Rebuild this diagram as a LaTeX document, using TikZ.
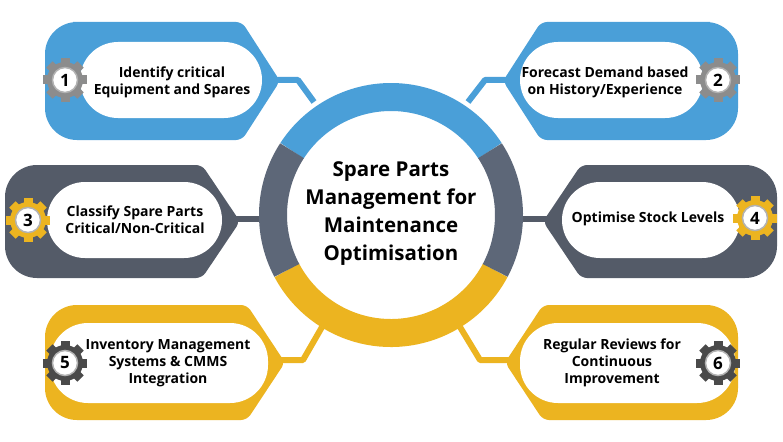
\documentclass[tikz,border=0pt]{standalone}
\usepackage{fontspec}
\setmainfont{Open Sans}
\usetikzlibrary{calc}
\definecolor{cblue}{HTML}{4A9FD8}
\definecolor{cgray}{HTML}{545B68}
\definecolor{cring}{HTML}{5D6778}
\definecolor{cyel}{HTML}{ECB420}
\definecolor{gearg}{HTML}{8C8C8C}
\definecolor{geard}{HTML}{4A4A4A}
\tikzset{
 pill/.style={fill=white,rounded corners=38pt},
 lbl/.style={font=\bfseries\fontsize{14}{17}\selectfont,align=center,text=black},
 conn/.style={line width=6pt,line join=round},
 numtxt/.style={font=\bfseries\fontsize{17}{17}\selectfont,text=black}
}
\newcommand\lshape[5]{% tipx, farx, yt, yb, color  (tip on right)
 \pgfmathsetmacro\ym{(#3+#4)/2}
 \fill[#5] ($(#2,#3)+(60,0)$) [rounded corners=6pt] -- ($(#1,#3)+(-38,0)$) -- (#1,\ym) -- ($(#1,#4)+(-38,0)$) [rounded corners=32pt] -- (#2,#4) -- (#2,#3) -- cycle;}
\newcommand\rshape[5]{% tip on left
 \pgfmathsetmacro\ym{(#3+#4)/2}
 \fill[#5] ($(#2,#3)+(-60,0)$) [rounded corners=6pt] -- ($(#1,#3)+(38,0)$) -- (#1,\ym) -- ($(#1,#4)+(38,0)$) [rounded corners=32pt] -- (#2,#4) -- (#2,#3) -- cycle;}
\newcommand\gearat[4]{% name, x, y, color
 \foreach \a in {0,45,...,315}{\fill[#4,rotate around={\a:(#2,#3)}] ($(#2,#3)+(-4.5,0)$) rectangle ($(#2,#3)+(4.5,22)$);}
 \fill[#4] (#2,#3) circle (18);
 \filldraw[fill=white,draw=gray!60,line width=1.5pt] (#2,#3) circle (12.5);}
\begin{document}
\begin{tikzpicture}[x=1pt,y=-1pt]
\useasboundingbox (0,0) rectangle (783,441);
\fill[white] (0,0) rectangle (783,441);
% connectors
\coordinate (c1) at (314,102); \coordinate (c2) at (468,102);
\coordinate (c3) at (264,219); \coordinate (c4) at (520,219);
\coordinate (c5) at (322,327); \coordinate (c6) at (460,327);
\coordinate (t1) at (270,80); \coordinate (t2) at (513,80);
\coordinate (t3) at (230,219); \coordinate (t4) at (553,219);
\coordinate (t5) at (275,360); \coordinate (t6) at (515,360);
\draw[conn,cblue] (t1) -- (298,80) -- (c1);
\draw[conn,cblue] (t2) -- (485,80) -- (c2);
\draw[conn,cgray] (t3) -- (c3);
\draw[conn,cgray] (t4) -- (c4);
\draw[conn,cyel] (t5) -- (303,360) -- (c5);
\draw[conn,cyel] (t6) -- (480,360) -- (c6);
% shapes
\lshape{280}{45}{22}{140}{cblue}
\rshape{503}{738}{22}{140}{cblue}
\lshape{240}{5}{165}{278}{cgray}
\rshape{543}{777}{165}{278}{cgray}
\lshape{285}{45}{305}{420}{cyel}
\rshape{505}{738}{305}{420}{cyel}
% pills
\fill[pill] (80,42) rectangle (262,118);
\fill[pill] (520,42) rectangle (703,118);
\fill[pill] (47,182) rectangle (222,258);
\fill[pill] (562,182) rectangle (740,258);
\fill[pill] (50,323) rectangle (268,403);
\fill[pill] (520,323) rectangle (735,403);
% gears
\gearat{g1}{65}{80}{gearg}
\gearat{g2}{718}{80}{gearg}
\gearat{g3}{28}{220}{cyel}
\gearat{g4}{755}{218}{cyel}
\gearat{g5}{65}{363}{geard}
\gearat{g6}{718}{363}{geard}
\node[numtxt] (n1) at (65,80) {1};
\node[numtxt] (n2) at (718,80) {2};
\node[numtxt] (n3) at (28,220) {3};
\node[numtxt] (n4) at (755,218) {4};
\node[numtxt] (n5) at (65,363) {5};
\node[numtxt] (n6) at (718,363) {6};
% ring
\coordinate (o) at (391,215);
\draw[cblue,line width=28pt] ($(o)+(213:118)$) arc (213:327:118);
\draw[cyel,line width=28pt] ($(o)+(28:118)$) arc (28:152:118);
\draw[cring,line width=28pt] ($(o)+(152:118)$) arc (152:213:118);
\draw[cring,line width=28pt] ($(o)+(-33:118)$) arc (-33:28:118);
\node[font=\bfseries\fontsize{20.5}{28}\selectfont,align=center] (center) at (391,214) {Spare Parts\\Management for\\Maintenance\\Optimisation};
% labels
\node[lbl] (l1) at (172,82) {Identify critical\\Equipment and Spares};
\node[lbl] (l2) at (605,82) {Forecast Demand based\\on History/Experience};
\node[lbl] (l3) at (135,220) {Classify Spare Parts\\Critical/Non-Critical};
\node[lbl] (l4) at (648,219) {Optimise Stock Levels};
\node[lbl] (l5) at (168,363) {Inventory Management\\Systems \& CMMS\\Integration};
\node[lbl] (l6) at (612,363) {Regular Reviews for\\Continuous\\Improvement};
\end{tikzpicture}
\end{document}
